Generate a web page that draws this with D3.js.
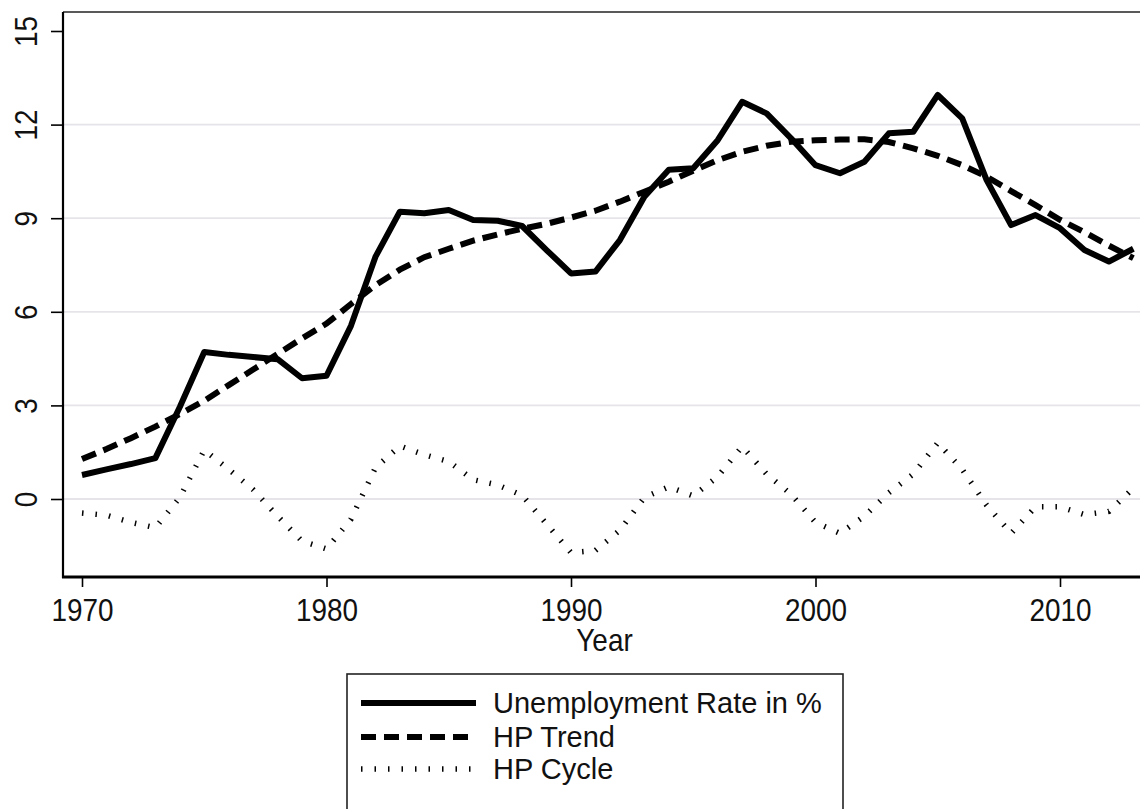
<!DOCTYPE html>
<html>
<head>
<meta charset="utf-8">
<script src="https://cdn.jsdelivr.net/npm/d3@7"></script>
<style>
  html, body { margin: 0; padding: 0; background: #ffffff; }
  svg { display: block; }
  text { font-family: "Liberation Sans", Arial, Helvetica, sans-serif; fill: #111; }
</style>
</head>
<body>
<svg id="chart" width="1140" height="809"></svg>
<script>
// Annual observations
const years = [1970, 1971, 1972, 1973, 1974, 1975, 1976, 1977, 1978, 1979,
               1980, 1981, 1982, 1983, 1984, 1985, 1986, 1987, 1988, 1989,
               1990, 1991, 1992, 1993, 1994, 1995, 1996, 1997, 1998, 1999,
               2000, 2001, 2002, 2003, 2004, 2005, 2006, 2007, 2008, 2009,
               2010, 2011, 2012, 2013];

// Unemployment rate in %
const unemployment = [0.77, 0.95, 1.12, 1.31, 2.95, 4.71, 4.62, 4.55, 4.48, 3.87,
                      3.95, 5.55, 7.76, 9.21, 9.16, 9.26, 8.94, 8.92, 8.75, 7.98,
                      7.23, 7.29, 8.30, 9.69, 10.55, 10.60, 11.50, 12.73, 12.36, 11.56,
                      10.70, 10.44, 10.81, 11.72, 11.77, 12.95, 12.20, 10.22, 8.78, 9.10,
                      8.68, 7.98, 7.61, 8.02];

// Hodrick-Prescott trend component
const hpTrend = [1.28, 1.60, 1.95, 2.32, 2.72, 3.15, 3.65, 4.15, 4.65, 5.15,
                 5.62, 6.25, 6.85, 7.35, 7.75, 8.02, 8.28, 8.48, 8.66, 8.82,
                 9.02, 9.24, 9.53, 9.85, 10.17, 10.52, 10.86, 11.13, 11.32, 11.45,
                 11.50, 11.52, 11.53, 11.44, 11.24, 11.00, 10.70, 10.33, 9.87, 9.42,
                 8.95, 8.55, 8.12, 7.72];

// Hodrick-Prescott cyclical component
const hpCycle = [-0.45, -0.52, -0.75, -0.92, 0.05, 1.57, 0.95, 0.30, -0.55, -1.35,
                 -1.60, -0.65, 1.00, 1.70, 1.42, 1.20, 0.62, 0.45, 0.12, -0.80,
                 -1.72, -1.65, -1.00, 0.05, 0.39, 0.10, 0.72, 1.68, 0.80, 0.15,
                 -0.75, -1.10, -0.55, 0.20, 0.80, 1.80, 0.95, -0.20, -1.10, -0.25,
                 -0.25, -0.50, -0.40, 0.35];

const xTicks = [1970, 1980, 1990, 2000, 2010];
const yTicks = [0, 3, 6, 9, 12, 15];
const gridValues = [0, 3, 6, 9, 12];
const seriesNames = ["Unemployment Rate in %", "HP Trend", "HP Cycle"];

// Plot region
const plotLeft = 63, plotRight = 1141, plotTop = 12, plotBottom = 577;

const x = d3.scaleLinear().domain([1970, 2010]).range([82, 1060]);
const y = d3.scaleLinear().domain([0, 15]).range([499, 31]);

const svg = d3.select("#chart");

// Text is set slightly condensed (tall, narrow glyphs)
function label(parent, str, px, py, size, opts = {}) {
  const sx = opts.sx ?? 0.9;
  const rot = opts.rotate ? " rotate(-90)" : "";
  return parent.append("text")
    .attr("transform", `translate(${px},${py})${rot} scale(${sx},1)`)
    .attr("text-anchor", opts.anchor || "start")
    .style("font-size", size + "px")
    .text(str);
}

// Horizontal grid
svg.append("g")
  .selectAll("line")
  .data(gridValues)
  .join("line")
  .attr("x1", plotLeft).attr("x2", plotRight)
  .attr("y1", d => y(d)).attr("y2", d => y(d))
  .attr("stroke", "#e6e4e8")
  .attr("stroke-width", 1.8);

// Frame top edge
svg.append("line")
  .attr("x1", plotLeft).attr("x2", plotRight)
  .attr("y1", plotTop).attr("y2", plotTop)
  .attr("stroke", "#222").attr("stroke-width", 1.6);

// Series
const lineGen = vals => d3.line()
  .x((d, i) => x(years[i]))
  .y(d => y(d))(vals);

const styles = [
  { data: unemployment, width: 6, dash: null, join: "round" },
  { data: hpTrend, width: 6, dash: "15 8", join: "miter" },
  { data: hpCycle, width: 5.5, dash: "1.5 12", join: "miter" }
];

// Draw the cycle first so the thick lines sit on top
[2, 1, 0].forEach(k => {
  const s = styles[k];
  svg.append("path")
    .attr("d", lineGen(s.data))
    .attr("fill", "none")
    .attr("stroke", "#000")
    .attr("stroke-width", s.width)
    .attr("stroke-linejoin", s.join)
    .attr("stroke-linecap", "butt")
    .attr("stroke-dasharray", s.dash);
});

// Y axis
const yAxis = svg.append("g")
  .attr("transform", `translate(${plotLeft},0)`)
  .call(d3.axisLeft(y).tickValues(yTicks).tickSize(12).tickSizeOuter(0).tickFormat(d3.format("d")));
yAxis.select(".domain").remove();
yAxis.selectAll(".tick text").remove();
yAxis.append("line")
  .attr("x1", 0).attr("x2", 0)
  .attr("y1", plotTop).attr("y2", plotBottom + 1)
  .attr("stroke", "#000").attr("stroke-width", 2.2);
yAxis.selectAll(".tick line").attr("stroke", "#000").attr("stroke-width", 1.6);
yAxis.selectAll(".tick").each(function (d) {
  label(d3.select(this), d3.format("d")(d), -26, 0, 31, { rotate: true, anchor: "middle" });
});

// X axis
const xAxis = svg.append("g")
  .attr("transform", `translate(0,${plotBottom})`)
  .call(d3.axisBottom(x).tickValues(xTicks).tickSize(10).tickSizeOuter(0).tickFormat(d3.format("d")));
xAxis.select(".domain").remove();
xAxis.selectAll(".tick text").remove();
xAxis.append("line")
  .attr("x1", plotLeft - 1).attr("x2", plotRight)
  .attr("y1", 0).attr("y2", 0)
  .attr("stroke", "#000").attr("stroke-width", 3.2);
xAxis.selectAll(".tick line").attr("stroke", "#000").attr("stroke-width", 1.6);
xAxis.selectAll(".tick").each(function (d) {
  label(d3.select(this), d3.format("d")(d), 0, 44, 31, { anchor: "middle" });
});

// Axis title
label(svg, "Year", (plotLeft + 1140) / 2 + 3, 651, 31, { anchor: "middle" });

// Legend
const legend = svg.append("g");
legend.append("rect")
  .attr("x", 347).attr("y", 674)
  .attr("width", 496).attr("height", 160)
  .attr("fill", "#fff")
  .attr("stroke", "#222").attr("stroke-width", 1.6);

const rowY = [703, 737, 769];
seriesNames.forEach((name, i) => {
  const s = styles[i];
  legend.append("line")
    .attr("x1", 361).attr("x2", 476)
    .attr("y1", rowY[i]).attr("y2", rowY[i])
    .attr("stroke", "#000")
    .attr("stroke-width", s.width)
    .attr("stroke-dasharray", s.dash);
  label(legend, name, 493, rowY[i] + 10, 29, { sx: 1.0 });
});
</script>
</body>
</html>
